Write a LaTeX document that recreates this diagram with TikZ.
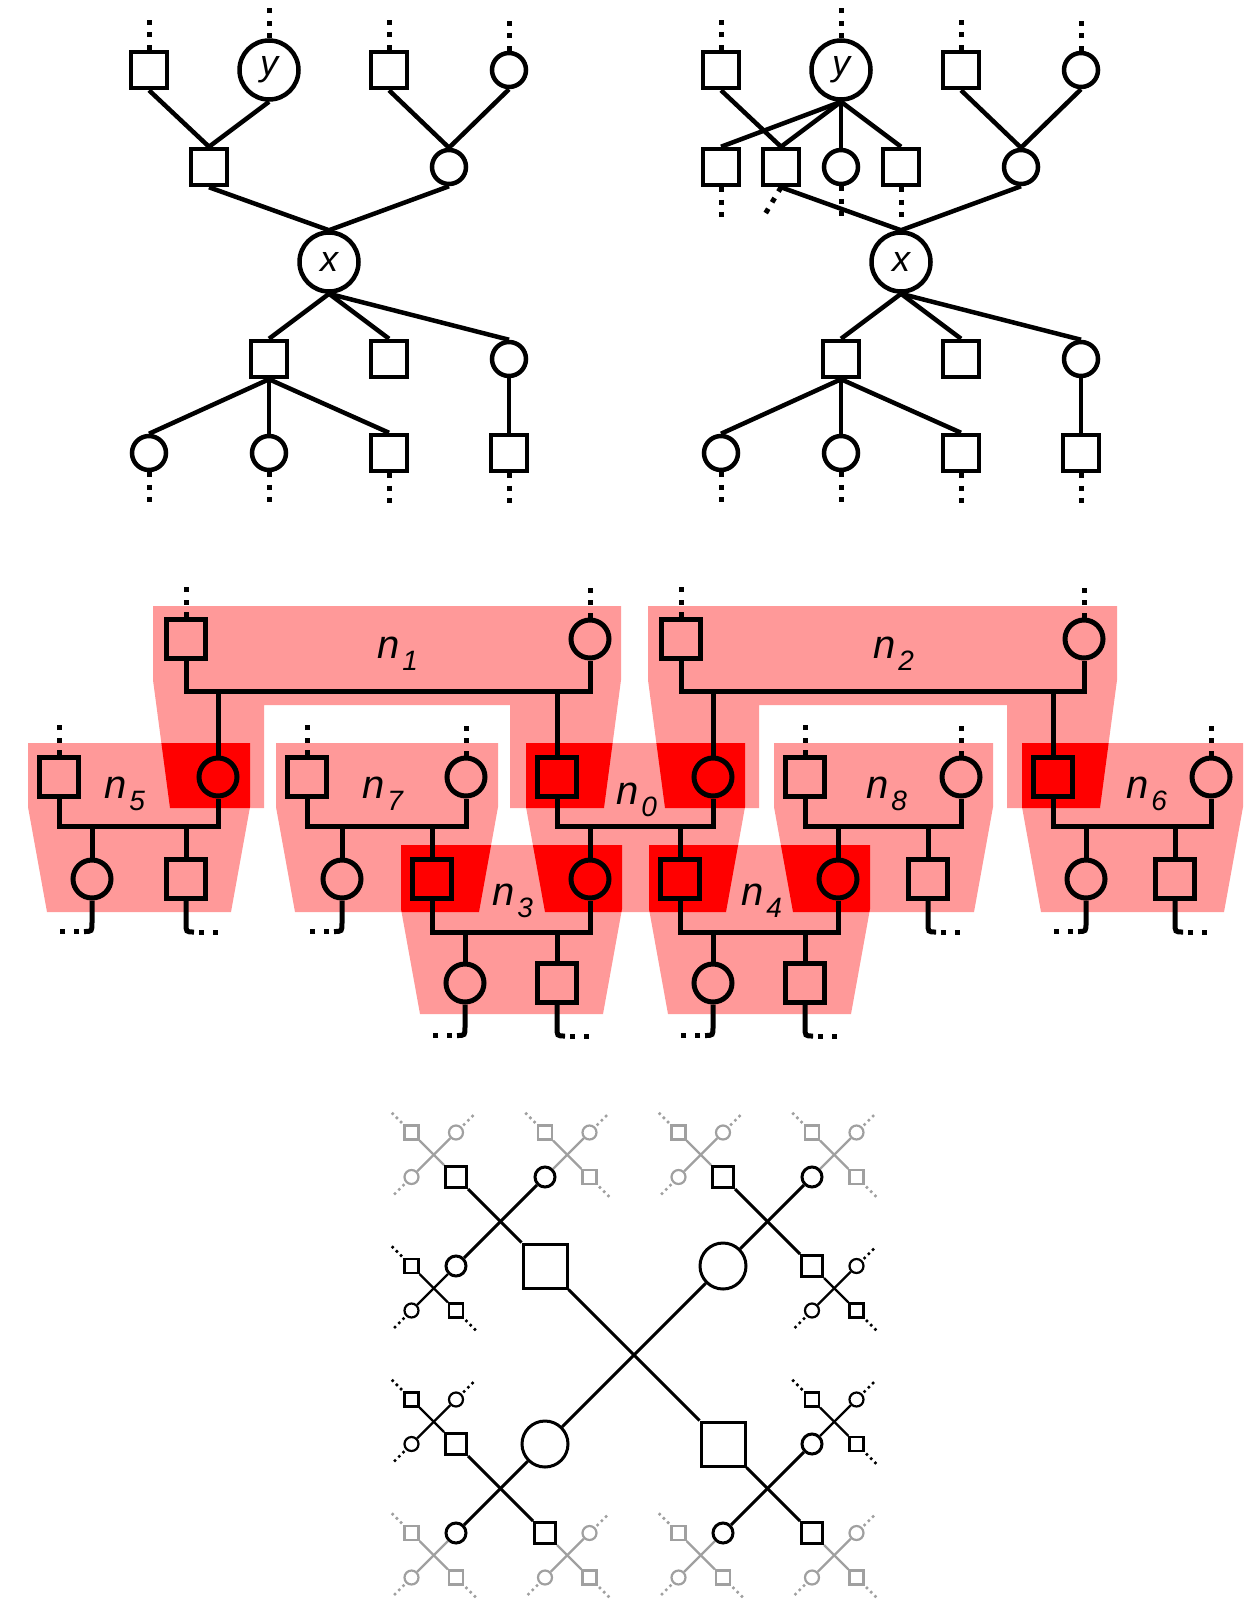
\documentclass[tikz,border=0pt]{standalone}
\usepackage{fontspec}
\setmainfont{Liberation Sans}
\usetikzlibrary{calc}

\definecolor{famfill}{RGB}{255,153,153}
\definecolor{famcore}{RGB}{255,0,0}
\definecolor{faded}{RGB}{160,160,160}

% family name with a lowered index
\newcommand{\famlabel}[1]{\itshape n\kern3pt\raisebox{-12pt}{\fontsize{28}{28}\selectfont\itshape #1}}
% family region: box over the parents, narrowing towards the children
\newcommand{\famrect}[3]{(#1,#3) -- (#2,#3) -- (#2,{#3+64}) -- ({#2-19},{#3+169}) -- ({#1+19},{#3+169}) -- (#1,{#3+64}) -- cycle}
\newcommand{\archone}{(153,606) -- (621,606) -- (621,680) -- (604,808) -- (510,808) -- (510,705) -- (264,705) -- (264,808) -- (170,808) -- (153,680) -- cycle}
\newcommand{\archtwo}{(648,606) -- (1117,606) -- (1117,680) -- (1100,808) -- (1007,808) -- (1007,705) -- (759,705) -- (759,808) -- (665,808) -- (648,680) -- cycle}
% open-ended descent of a child
\newcommand{\hookleft}[1]{%
  \draw[fline] (#1.south) -- ($(#1.south)+(0,22)$) .. controls ($(#1.south)+(0,31)$) .. ($(#1.south)+(-8,31)$);
  \draw[fdots] ($(#1.south)+(-13,31)$) -- ($(#1.south)+(-36,31)$);}
\newcommand{\hookright}[1]{%
  \draw[fline] (#1.south) -- ($(#1.south)+(0,22)$) .. controls ($(#1.south)+(0,31)$) .. ($(#1.south)+(8,31)$);
  \draw[fdots] ($(#1.south)+(13,31)$) -- ($(#1.south)+(36,31)$);}
% outermost cross: parent node, centre, outward direction, colour, shape on the axis, shape across
\newcommand{\leafx}[8]{%
  \begin{scope}[color=#6]
    \node[#7] (#1o) at ({#2+22.25*(#4)},{#3+22.25*(#5)}) {};
    \node[#8] (#1p) at ({#2+22.25*(#4)},{#3-22.25*(#5)}) {};
    \node[#8] (#1q) at ({#2-22.25*(#4)},{#3+22.25*(#5)}) {};
    \draw[xlt] (#1) -- (#1o);
    \draw[xlt] (#1p) -- (#1q);
    \draw[xdots] (#1o) -- ({#2+42*(#4)},{#3+42*(#5)});
    \draw[xdots] (#1p) -- ({#2+42*(#4)},{#3-42*(#5)});
    \draw[xdots] (#1q) -- ({#2-42*(#4)},{#3+42*(#5)});
  \end{scope}}

\tikzset{
  tline/.style={line width=4.5pt},
  tsq/.style={draw, rectangle, line width=4.5pt, minimum size=36pt, inner sep=0pt},
  tci/.style={draw, circle, line width=4.5pt, minimum size=34pt, inner sep=0pt},
  tbig/.style={draw, circle, line width=4.5pt, minimum size=59pt, inner sep=0pt, font=\fontsize{36}{40}\selectfont\itshape},
  tdots/.style={line width=5pt, dash pattern=on 5pt off 7.5pt},
  fline/.style={line width=5pt},
  fsq/.style={draw, rectangle, line width=5pt, minimum size=39pt, inner sep=0pt},
  fci/.style={draw, circle, line width=5pt, minimum size=38pt, inner sep=0pt},
  core/.style={fill=famcore},
  fdots/.style={line width=5pt, dash pattern=on 5pt off 9pt},
  famtext/.style={font=\fontsize{40}{44}\selectfont, inner sep=0pt, anchor=base west},
  xl/.style={line width=3pt},
  xlt/.style={line width=2.2pt},
  xsqA/.style={draw, rectangle, line width=3pt, minimum size=44pt, inner sep=0pt},
  xciA/.style={draw, circle, line width=3pt, minimum size=46pt, inner sep=0pt},
  xsqB/.style={draw, rectangle, line width=3pt, minimum size=21pt, inner sep=0pt},
  xciB/.style={draw, circle, line width=3pt, minimum size=20pt, inner sep=0pt},
  xsqC/.style={draw, rectangle, line width=2.2pt, minimum size=14pt, inner sep=0pt},
  xciC/.style={draw, circle, line width=2.2pt, minimum size=14pt, inner sep=0pt},
  xdots/.style={line width=2.5pt, dash pattern=on 2.5pt off 3.5pt, shorten <=2pt}
}

\begin{document}
\begin{tikzpicture}[x=1pt, y=-1pt]
\useasboundingbox (0,0) rectangle (1251,1603);

% ---------------- two pedigree trees ----------------
\node[tsq] (ta) at (149,70) {};
\node[tbig] (ty) at (269,70) {y};
\node[tsq] (tb) at (389,70) {};
\node[tci] (tc) at (509,70) {};
\node[tsq] (td) at (209,167) {};
\node[tci] (te) at (449,167) {};
\node[tbig] (tx) at (329,262) {x};
\node[tsq] (tf) at (269,359) {};
\node[tsq] (tg) at (389,359) {};
\node[tci] (th) at (509,359) {};
\node[tci] (ti) at (149,453) {};
\node[tci] (tj) at (269,453) {};
\node[tsq] (tk) at (389,453) {};
\node[tsq] (tl) at (509,453) {};

\node[tsq] (ua) at (721,70) {};
\node[tbig] (uy) at (841,70) {y};
\node[tsq] (ub) at (961,70) {};
\node[tci] (uc) at (1081,70) {};
\node[tsq] (up) at (721,167) {};
\node[tsq] (uq) at (781,167) {};
\node[tci] (ur) at (841,167) {};
\node[tsq] (us) at (901,167) {};
\node[tci] (ue) at (1021,167) {};
\node[tbig] (ux) at (901,262) {x};
\node[tsq] (uf) at (841,359) {};
\node[tsq] (ug) at (961,359) {};
\node[tci] (uh) at (1081,359) {};
\node[tci] (ui) at (721,453) {};
\node[tci] (uj) at (841,453) {};
\node[tsq] (uk) at (961,453) {};
\node[tsq] (ul) at (1081,453) {};

\foreach \a/\b in {ta/td, ty/td, tb/te, tc/te, td/tx, te/tx, tx/tf, tx/tg, tx/th, tf/ti, tf/tj, tf/tk, th/tl,
                   ua/uq, uy/up, uy/uq, uy/ur, uy/us, ub/ue, uc/ue, uq/ux, ue/ux, ux/uf, ux/ug, ux/uh, uf/ui, uf/uj, uf/uk, uh/ul}
  \draw[tline] (\a.south) -- (\b.north);

\foreach \nd in {ta,ty,tb,tc,ua,uy,ub,uc}
  \draw[tdots] (\nd.north) -- ++(0,-30);
\foreach \nd in {ti,tj,tk,tl,ui,uj,uk,ul,up,ur,us}
  \draw[tdots] (\nd.south) -- ++(0,30);
\draw[tdots] (uq.south) -- ++(-16,27);

% ---------------- nuclear families ----------------
\foreach \l/\r in {28/250, 276/498, 526/745, 774/993, 1022/1243}
  \fill[famfill] \famrect{\l}{\r}{743};
\fill[famfill] \famrect{401}{622}{845};
\fill[famfill] \famrect{649}{870}{845};
\fill[famfill] \archone;
\fill[famfill] \archtwo;

% shared members
\begin{scope}\clip \famrect{28}{250}{743};  \fill[famcore] \archone; \end{scope}
\begin{scope}\clip \famrect{526}{745}{743}; \fill[famcore] \archone; \end{scope}
\begin{scope}\clip \famrect{526}{745}{743}; \fill[famcore] \archtwo; \end{scope}
\begin{scope}\clip \famrect{1022}{1243}{743}; \fill[famcore] \archtwo; \end{scope}
\begin{scope}\clip \famrect{276}{498}{743}; \fill[famcore] \famrect{401}{622}{845}; \end{scope}
\begin{scope}\clip \famrect{526}{745}{743}; \fill[famcore] \famrect{401}{622}{845}; \end{scope}
\begin{scope}\clip \famrect{526}{745}{743}; \fill[famcore] \famrect{649}{870}{845}; \end{scope}
\begin{scope}\clip \famrect{774}{993}{743}; \fill[famcore] \famrect{649}{870}{845}; \end{scope}

\node[famtext] (l1) at (377,658) {\famlabel{1}};
\node[famtext] (l2) at (873,658) {\famlabel{2}};
\node[famtext] (l5) at (104,798) {\famlabel{5}};
\node[famtext] (l7) at (362,798) {\famlabel{7}};
\node[famtext] (l0) at (616,804) {\famlabel{0}};
\node[famtext] (l8) at (866,798) {\famlabel{8}};
\node[famtext] (l6) at (1126,798) {\famlabel{6}};
\node[famtext] (l3) at (492,905) {\famlabel{3}};
\node[famtext] (l4) at (741,905) {\famlabel{4}};

\node[fsq] (p1a) at (186,639) {};
\node[fci] (p1b) at (590,639) {};
\node[fsq] (p2a) at (681,639) {};
\node[fci] (p2b) at (1084,639) {};

\node[fsq] (p5a) at (59,777) {};
\node[fci,core] (p5b) at (218,777) {};
\node[fsq] (p7a) at (307,777) {};
\node[fci] (p7b) at (466,777) {};
\node[fsq,core] (p0a) at (557,777) {};
\node[fci,core] (p0b) at (713,777) {};
\node[fsq] (p8a) at (805,777) {};
\node[fci] (p8b) at (961,777) {};
\node[fsq,core] (p6a) at (1053,777) {};
\node[fci] (p6b) at (1211,777) {};

\node[fci] (k5a) at (92,879) {};
\node[fsq] (k5b) at (186,879) {};
\node[fci] (k7a) at (342,879) {};
\node[fsq,core] (p3a) at (432,879) {};
\node[fci,core] (p3b) at (590,879) {};
\node[fsq,core] (p4a) at (680,879) {};
\node[fci,core] (p4b) at (838,879) {};
\node[fsq] (k8b) at (928,879) {};
\node[fci] (k6a) at (1086,879) {};
\node[fsq] (k6b) at (1175,879) {};

\node[fci] (k3a) at (465,983) {};
\node[fsq] (k3b) at (557,983) {};
\node[fci] (k4a) at (713,983) {};
\node[fsq] (k4b) at (805,983) {};

% marriage bars and descent lines
\foreach \bar/\bx/\by/\pa/\pb/\ca/\cb in {
    b1/388/691/p1a/p1b/p5b/p0a,
    b2/882/691/p2a/p2b/p0b/p6a,
    b5/138/826/p5a/p5b/k5a/k5b,
    b7/386/826/p7a/p7b/k7a/p3a,
    b0/635/826/p0a/p0b/p3b/p4a,
    b8/883/826/p8a/p8b/p4b/k8b,
    b6/1132/826/p6a/p6b/k6a/k6b,
    b3/511/932/p3a/p3b/k3a/k3b,
    b4/759/932/p4a/p4b/k4a/k4b}{
  \coordinate (\bar) at (\bx,\by);
  \draw[fline] (\pa.south) |- (\bar) -| (\pb.south);
  \draw[fline] (\ca.north) -- (\ca.north |- \bar);
  \draw[fline] (\cb.north) -- (\cb.north |- \bar);
}

\foreach \nd in {p1a,p1b,p2a,p2b,p5a,p7a,p7b,p8a,p8b,p6b}
  \draw[tdots] (\nd.north) -- ++(0,-30);

\hookleft{k5a} \hookright{k5b}
\hookleft{k7a} \hookright{k8b}
\hookleft{k6a} \hookright{k6b}
\hookleft{k3a} \hookright{k3b}
\hookleft{k4a} \hookright{k4b}

% ---------------- self-similar cross ----------------
\node[xsqA] (Qa) at (545,1266) {};
\node[xciA] (Qb) at (723,1266) {};
\node[xciA] (Qc) at (545,1444) {};
\node[xsqA] (Qd) at (723,1444) {};
\draw[xl] (Qa) -- (Qd);
\draw[xl] (Qb) -- (Qc);

\node[xsqB] (ULa) at (456,1177) {};
\node[xciB] (ULb) at (545,1177) {};
\node[xciB] (ULc) at (456,1266) {};
\draw[xl] (Qa) -- (ULa);
\draw[xl] (ULb) -- (ULc);

\node[xsqB] (URa) at (723,1177) {};
\node[xciB] (URb) at (812,1177) {};
\node[xsqB] (URd) at (812,1266) {};
\draw[xl] (Qb) -- (URb);
\draw[xl] (URa) -- (URd);

\node[xsqB] (DLa) at (456,1444) {};
\node[xciB] (DLc) at (456,1533) {};
\node[xsqB] (DLd) at (545,1533) {};
\draw[xl] (Qc) -- (DLc);
\draw[xl] (DLa) -- (DLd);

\node[xciB] (DRb) at (812,1444) {};
\node[xciB] (DRc) at (723,1533) {};
\node[xsqB] (DRd) at (812,1533) {};
\draw[xl] (Qd) -- (DRd);
\draw[xl] (DRb) -- (DRc);

\leafx{ULa}{433.75}{1154.75}{-1}{-1}{faded}{xsqC}{xciC}
\leafx{ULb}{567.25}{1154.75}{1}{-1}{faded}{xciC}{xsqC}
\leafx{ULc}{433.75}{1288.25}{-1}{1}{black}{xciC}{xsqC}
\leafx{URa}{700.75}{1154.75}{-1}{-1}{faded}{xsqC}{xciC}
\leafx{URb}{834.25}{1154.75}{1}{-1}{faded}{xciC}{xsqC}
\leafx{URd}{834.25}{1288.25}{1}{1}{black}{xsqC}{xciC}
\leafx{DLa}{433.75}{1421.75}{-1}{-1}{black}{xsqC}{xciC}
\leafx{DLc}{433.75}{1555.25}{-1}{1}{faded}{xciC}{xsqC}
\leafx{DLd}{567.25}{1555.25}{1}{1}{faded}{xsqC}{xciC}
\leafx{DRb}{834.25}{1421.75}{1}{-1}{black}{xciC}{xsqC}
\leafx{DRc}{700.75}{1555.25}{-1}{1}{faded}{xciC}{xsqC}
\leafx{DRd}{834.25}{1555.25}{1}{1}{faded}{xsqC}{xciC}
\end{tikzpicture}
\end{document}
